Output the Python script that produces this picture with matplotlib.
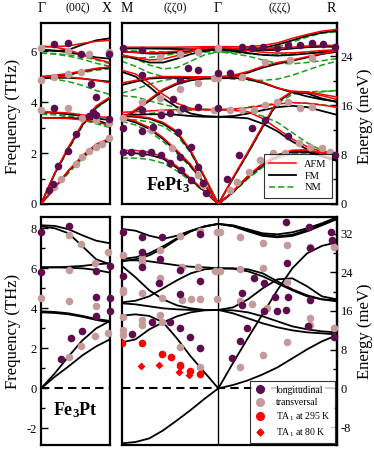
import numpy as np
import matplotlib
matplotlib.use("Agg")
import matplotlib.pyplot as plt
from matplotlib.lines import Line2D

plt.rcParams["font.family"] = ["Liberation Serif", "DejaVu Serif"]
plt.rcParams["mathtext.default"] = "regular"

THZ2MEV = 4.1357
DARK = "#5e0c4e"
LIGHT = "#c49a9a"
RED = "#ff0000"
GREEN = "#16a016"

# q grids (reciprocal-space path lengths)
QX = [0, 0.2, 0.4, 0.6, 0.8, 1.0]                       # Gamma -> X
QR = list(np.linspace(0, 1.414, 8)) + list(np.linspace(1.414, 3.146, 9)[1:])  # M -> Gamma -> R
Q_GAMMA = 1.414

# ---------------- FePt3, Gamma-X (THz) ----------------
fm_x = [
    [0, 0.65, 1.3, 1.85, 2.3, 2.5],
    [0, 1.2, 2.2, 3.1, 3.8, 4.15],
    [3.6, 3.58, 3.52, 3.45, 3.35, 3.3],
    [3.38, 3.38, 3.37, 3.35, 3.3, 3.1],
    [4.93, 5.0, 5.08, 5.2, 5.3, 5.35],
    [4.93, 4.95, 4.95, 4.92, 4.85, 4.8],
    [6.05, 6.0, 6.05, 6.25, 6.42, 6.5],
    [6.05, 6.02, 5.95, 5.85, 5.75, 5.7],
]
afm_x = [
    [0, 0.65, 1.32, 1.9, 2.35, 2.58],
    [0, 1.22, 2.25, 3.15, 3.85, 4.2],
    [3.62, 3.6, 3.57, 3.5, 3.42, 3.4],
    [3.38, 3.37, 3.35, 3.3, 3.2, 3.1],
    [5.0, 5.05, 5.12, 5.22, 5.32, 5.38],
    [5.0, 5.0, 4.98, 4.92, 4.85, 4.75],
    [6.18, 6.18, 6.2, 6.3, 6.38, 6.42],
    [6.18, 6.15, 6.05, 5.85, 5.68, 5.55],
]
nm_x = [
    [0, 0.6, 1.22, 1.78, 2.25, 2.45],
    [0, 1.18, 2.15, 3.05, 3.75, 4.15],
    [3.55, 3.52, 3.45, 3.35, 3.18, 3.05],
    [3.52, 3.5, 3.42, 3.3, 3.15, 3.0],
    [4.95, 4.9, 4.8, 4.65, 4.45, 4.3],
    [4.95, 4.98, 5.05, 5.15, 5.25, 5.3],
    [5.92, 5.88, 5.8, 5.68, 5.52, 5.4],
    [5.92, 5.9, 5.85, 5.78, 5.65, 5.5],
]

# ---------------- FePt3, M-Gamma-R (THz) ----------------
fm_r = [
    [1.99, 1.99, 1.93, 1.78, 1.42, 0.95, 0.5, 0, 0.48, 1.07, 1.53, 1.88, 2.05, 2.05, 1.86, 1.7],
    [3.45, 3.42, 3.35, 3.15, 2.8, 2.05, 1.05, 0, 1.02, 2.0, 3.03, 4.0, 4.4, 4.34, 4.14, 4.0],
    [3.36, 3.2, 2.95, 2.55, 2.05, 1.5, 0.78, 0, 0.48, 1.07, 1.53, 1.88, 2.05, 2.05, 1.86, 1.7],
    [3.5, 3.5, 3.52, 3.52, 3.5, 3.45, 3.42, 3.42, 3.4, 3.36, 3.15, 2.85, 2.45, 2.15, 1.9, 1.72],
    [5.19, 5.0, 4.6, 4.15, 3.8, 3.55, 3.45, 3.42, 3.45, 3.55, 3.68, 3.8, 3.85, 3.8, 3.65, 3.5],
    [3.35, 3.65, 4.05, 4.45, 4.7, 4.85, 4.92, 4.93, 4.95, 4.9, 4.75, 4.55, 4.38, 4.22, 4.1, 4.02],
    [4.67, 4.8, 4.92, 4.95, 4.95, 4.94, 4.93, 4.93, 5.0, 5.15, 5.35, 5.5, 5.62, 5.75, 5.88, 5.97],
    [6.1, 6.1, 6.1, 6.09, 6.08, 6.07, 6.07, 6.07, 6.05, 6.03, 6.03, 6.05, 6.1, 6.15, 6.17, 6.17],
    [5.97, 5.95, 5.9, 5.9, 5.95, 6.0, 6.05, 6.07, 6.07, 6.07, 6.12, 6.25, 6.42, 6.6, 6.72, 6.8],
    [5.84, 5.7, 5.55, 5.55, 5.7, 5.88, 6.0, 6.07, 6.0, 5.92, 5.85, 5.82, 5.85, 5.9, 5.95, 6.0],
]
afm_r = [
    [2.1, 2.1, 2.03, 1.85, 1.48, 1.0, 0.52, 0, 0.5, 1.1, 1.58, 1.93, 2.1, 2.12, 2.0, 1.92],
    [3.5, 3.45, 3.38, 3.2, 2.85, 2.1, 1.08, 0, 1.05, 2.05, 3.08, 4.05, 4.42, 4.38, 4.25, 4.1],
    [3.4, 3.25, 3.0, 2.6, 2.1, 1.55, 0.8, 0, 0.5, 1.1, 1.58, 1.93, 2.1, 2.12, 2.0, 1.92],
    [3.6, 3.62, 3.65, 3.68, 3.7, 3.7, 3.7, 3.7, 3.68, 3.62, 3.35, 2.95, 2.55, 2.25, 2.05, 1.95],
    [5.25, 5.1, 4.75, 4.3, 3.95, 3.75, 3.7, 3.7, 3.72, 3.78, 3.85, 3.92, 3.98, 3.95, 3.88, 3.8],
    [3.38, 3.7, 4.1, 4.5, 4.75, 4.9, 4.97, 4.99, 5.0, 4.95, 4.78, 4.55, 4.42, 4.4, 4.3, 4.2],
    [4.75, 4.85, 4.95, 5.0, 5.0, 4.99, 4.99, 4.99, 5.05, 5.2, 5.4, 5.55, 5.65, 5.78, 5.9, 6.0],
    [6.15, 6.15, 6.15, 6.15, 6.15, 6.16, 6.17, 6.17, 6.17, 6.15, 6.12, 6.12, 6.15, 6.2, 6.22, 6.22],
    [5.84, 5.75, 5.65, 5.68, 5.82, 5.98, 6.1, 6.17, 6.17, 6.17, 6.22, 6.32, 6.5, 6.65, 6.78, 6.85],
    [5.97, 5.95, 5.93, 5.95, 6.0, 6.08, 6.14, 6.17, 6.1, 6.02, 5.95, 5.92, 5.93, 5.97, 6.02, 6.05],
]
nm_r = [
    [1.8, 1.8, 1.75, 1.6, 1.3, 0.9, 0.47, 0, 0.45, 1.0, 1.45, 1.8, 1.98, 2.0, 1.9, 1.78],
    [3.3, 3.3, 3.22, 3.05, 2.7, 2.0, 1.02, 0, 1.0, 1.98, 3.0, 3.95, 4.3, 4.4, 4.42, 4.45],
    [3.25, 3.1, 2.85, 2.45, 1.98, 1.45, 0.75, 0, 0.45, 1.0, 1.45, 1.8, 1.98, 2.0, 1.9, 1.78],
    [3.5, 3.52, 3.55, 3.6, 3.65, 3.68, 3.7, 3.7, 3.68, 3.6, 3.45, 3.2, 2.8, 2.4, 2.1, 1.95],
    [4.25, 4.2, 4.05, 3.9, 3.8, 3.75, 3.72, 3.7, 3.72, 3.8, 3.88, 3.95, 3.98, 3.95, 3.9, 3.8],
    [4.35, 4.5, 4.7, 4.85, 4.92, 4.95, 4.95, 4.95, 4.9, 4.85, 4.85, 4.9, 5.05, 5.25, 5.45, 5.6],
    [5.6, 5.4, 5.15, 5.0, 4.95, 4.95, 4.95, 4.95, 4.95, 4.88, 4.75, 4.55, 4.38, 4.35, 4.4, 4.45],
    [5.85, 5.7, 5.45, 5.3, 5.35, 5.6, 5.85, 5.97, 5.95, 5.9, 5.85, 5.85, 5.9, 5.95, 5.98, 6.0],
    [6.02, 6.0, 5.98, 5.97, 5.97, 5.97, 5.97, 5.97, 5.97, 6.0, 6.05, 6.15, 6.35, 6.55, 6.7, 6.75],
    [5.75, 5.72, 5.75, 5.82, 5.9, 5.95, 5.97, 5.97, 5.9, 5.8, 5.65, 5.52, 5.5, 5.55, 5.62, 5.7],
]

# ---------------- FePt3 experiment ----------------
tl_dark_q = [0.19, 0.39, 0.58, 0.98, 0.72, 0.80, 0.19, 0.75, 0.98, 0.12, 0.17, 0.24, 0.39, 0.51, 0.70, 0.80]
tl_dark_f = [6.27, 6.30, 5.90, 5.90, 4.70, 4.21, 3.75, 3.62, 3.32, 0.55, 0.80, 1.50, 2.09, 2.73, 3.45, 3.49]
tl_light_q = [0, 0.39, 0.70, 0.99, 0, 0.19, 0.39, 0.58, 0, 0.39, 0.60, 0.80, 0.99, 0.99, 0.89, 0.80,
              0.70, 0.60, 0.51, 0.29, 0.19]
tl_light_f = [6.10, 6.01, 5.90, 5.97, 4.86, 5.00, 5.10, 5.19, 3.69, 3.75, 3.36, 3.29, 3.16, 2.58, 2.35,
              2.25, 2.08, 1.86, 1.57, 1.00, 0.68]

tr_dark_q = [0.02, 0.29, 0.02, 0.02, 0.14, 0.29, 0.43, 0.58, 0.70, 0.85, 0.87, 1.02, 1.12, 1.19, 1.23,
             0.29, 0.85, 0.97, 1.12, 0.75, 0.90, 1.12, 0.58, 0.30, 0.29, 0.46, 0.70, 0.82, 1.02,
             1.41, 1.41, 1.59, 1.76, 1.90, 2.07, 2.27, 2.44, 2.61, 2.78, 2.95, 3.12, 2.10, 1.90,
             1.71, 1.54, 2.44, 3.12]
tr_dark_f = [6.10, 6.04, 2.97, 2.05, 2.05, 2.01, 2.05, 1.92, 1.62, 1.83, 1.33, 0.94, 1.46, 0.81, 0.42,
             5.06, 4.86, 5.32, 5.25, 4.12, 3.75, 3.79, 3.49, 2.86, 3.69, 3.03, 3.56, 2.84, 2.25,
             5.12, 3.75, 5.12, 6.17, 6.10, 6.17, 6.10, 6.24, 6.24, 6.30, 6.27, 6.17, 3.29, 2.97,
             1.92, 0.97, 2.67, 1.92]
tr_light_q = [0.85, 1.12, 0.56, 0.85, 1.12, 1.35, 0.29, 0.56, 0.02, 0.58, 0.85, 1.35, 0.43, 0.73,
              1.12, 1.19, 1.41, 1.41, 1.76, 2.10, 2.46, 2.78, 1.59, 1.76, 1.93, 2.10, 2.27, 2.44,
              2.61, 2.78, 1.59, 1.69, 1.86, 2.03, 2.22, 2.39, 2.59, 2.76, 2.93, 3.05]
tr_light_f = [5.90, 5.97, 5.75, 4.51, 4.73, 4.93, 4.01, 4.14, 3.36, 3.62, 3.69, 3.69, 2.90, 2.18,
              1.14, 0.75, 6.10, 4.93, 4.99, 5.58, 5.65, 5.71, 3.69, 3.69, 3.69, 3.88, 4.01, 4.01,
              3.75, 3.82, 0.55, 0.88, 1.27, 1.73, 1.99, 1.99, 2.38, 2.25, 2.18, 2.05]

# ---------------- Fe3Pt theory (THz) ----------------
fe3pt_x = [
    [0, 0.58, 1.1, 1.65, 2.1, 2.45],
    [0, 0.75, 1.6, 2.4, 3.0, 3.37],
    [3.85, 3.82, 3.75, 3.62, 3.47, 3.37],
    [3.8, 3.77, 3.7, 3.58, 3.42, 3.3],
    [6.05, 6.05, 6.03, 6.0, 5.92, 5.78],
    [6.05, 6.05, 6.08, 6.12, 6.2, 6.25],
    [8.15, 8.12, 7.95, 7.65, 7.38, 7.25],
    [8.1, 8.0, 7.75, 7.1, 6.45, 6.2],
]
fe3pt_r = [
    [7.97, 7.88, 7.63, 7.47, 7.63, 7.88, 8.08, 8.22, 8.1, 7.85, 7.62, 7.55, 7.62, 7.85, 8.15, 8.45],
    [6.47, 6.55, 6.75, 7.1, 7.5, 7.85, 8.1, 8.22, 8.12, 7.9, 7.68, 7.6, 7.68, 7.92, 8.2, 8.5],
    [6.35, 6.45, 6.65, 7.0, 7.45, 7.85, 8.1, 8.22, 8.15, 7.95, 7.75, 7.7, 7.8, 8.0, 8.25, 8.55],
    [6.4, 6.4, 6.35, 6.25, 6.15, 6.08, 6.05, 6.0, 6.0, 5.95, 5.75, 5.35, 4.95, 4.65, 4.45, 4.35],
    [6.13, 5.55, 4.9, 4.45, 4.15, 4.0, 3.92, 3.92, 3.9, 3.8, 3.6, 3.35, 3.1, 2.95, 2.85, 2.8],
    [4.3, 4.38, 4.6, 5.0, 5.4, 5.75, 5.95, 6.0, 5.98, 5.85, 5.6, 5.25, 4.9, 4.6, 4.45, 4.4],
    [4.25, 4.2, 4.1, 4.0, 3.95, 3.92, 3.92, 3.92, 4.05, 4.45, 5.0, 5.45, 5.5, 5.1, 4.6, 4.45],
    [3.63, 3.7, 3.62, 3.3, 2.5, 1.6, 0.8, 0, 1.28, 2.52, 3.72, 4.92, 6.0, 6.75, 7.12, 7.3],
    [2.3, 2.45, 2.95, 3.3, 3.6, 3.8, 3.9, 3.92, 3.75, 3.5, 3.25, 3.05, 2.9, 2.8, 2.75, 2.7],
    [-2.75, -2.68, -2.5, -2.1, -1.6, -1.08, -0.52, 0, 0.17, 0.4, 0.7, 1.05, 1.5, 1.95, 2.35, 2.65],
]

# ---------------- Fe3Pt experiment ----------------
bl_dark_q = [0.0, 0.40, 0.0, 0.80, 1.0, 0.80, 1.0, 0.80, 1.0, 0.29, 0.43, 0.60]
bl_dark_f = [7.80, 8.13, 5.80, 5.88, 6.12, 4.55, 4.50, 3.62, 3.88, 1.47, 2.52, 2.85]
bl_light_q = [0.0, 0.40, 0.58, 0.97, 0.78, 0.40, 0.40, 0.80, 0.97, 0.78, 0.58, 0.40]
bl_light_f = [4.50, 7.67, 7.22, 6.83, 6.25, 5.92, 4.38, 4.12, 2.78, 2.62, 2.13, 1.58]

br_dark_q = [0.02, 0.29, 0.59, 1.15, 0.29, 0.56, 0.29, 0.85, 0.02, 0.54, 1.14, 0.85, 0.15, 0.44,
             0.70, 0.86, 1.00, 1.14, 2.41, 2.74, 3.06, 3.07, 2.76, 2.42, 1.93, 2.08, 1.76, 2.24,
             2.44, 1.76, 2.76, 2.27, 2.41, 2.08, 2.73, 1.83, 1.73, 1.61, 3.11]
br_dark_f = [7.80, 7.58, 7.58, 7.72, 6.80, 6.45, 6.08, 5.92, 5.63, 5.25, 5.38, 4.72, 2.72, 3.30,
             3.33, 3.00, 2.58, 2.00, 8.30, 8.08, 7.80, 7.42, 7.00, 6.28, 5.50, 5.25, 4.75, 4.58,
             4.58, 4.17, 4.42, 3.87, 3.92, 3.88, 3.13, 3.00, 2.37, 1.50, 2.58]
br_light_q = [0.02, 0.29, 0.29, 0.56, 0.85, 1.14, 1.39, 1.44, 1.73, 2.07, 2.42, 2.75, 3.10, 0.02,
              0.02, 0.29, 0.56, 0.88, 1.12, 1.37, 1.44, 1.73, 2.07, 2.42, 0.59, 0.88, 1.02, 1.15,
              1.39, 1.73, 1.90, 2.12, 0.02, 0.29, 0.29, 0.56, 0.59, 0.02, 0.02, 0.85, 1.15, 1.73,
              2.07, 2.42, 2.76, 2.76, 3.10]
br_light_f = [6.67, 6.50, 6.33, 6.92, 7.62, 7.88, 7.83, 7.83, 7.58, 7.25, 7.17, 7.08, 7.05, 4.92,
              4.83, 4.75, 5.50, 6.08, 6.08, 5.87, 5.87, 5.95, 6.00, 5.33, 4.50, 4.42, 4.45, 4.45,
              4.45, 4.38, 4.22, 4.00, 3.55, 3.42, 3.17, 3.67, 3.33, 2.92, 2.67, 2.05, 1.08, 1.08,
              1.67, 2.33, 3.50, 3.17, 3.00]
ta295_q = [0.01, 0.29, 0.59, 0.72, 0.85, 1.00, 1.14]
ta295_f = [2.25, 2.25, 1.70, 1.58, 1.17, 0.88, 0.70]
ta80_q = [0.28, 0.55, 0.85, 0.84, 0.99]
ta80_f = [1.12, 1.17, 1.08, 0.80, 0.67]

W, H = 374, 449
fig = plt.figure(figsize=(W / 100, H / 100), dpi=100)


def make_ax(x0, x1, y0, y1):
    """Axes from pixel box (left, right, top, bottom)."""
    ax = fig.add_axes([x0 / W, 1 - y1 / H, (x1 - x0) / W, (y1 - y0) / H])
    for s in ax.spines.values():
        s.set_linewidth(1.6)
    ax.tick_params(bottom=False, labelbottom=False, top=False)
    return ax


ax_tl = make_ax(41, 110, 23, 204)
ax_tr = make_ax(121.7, 336.7, 23, 204)
ax_bl = make_ax(41, 110, 217.3, 445)
ax_br = make_ax(121.7, 336.7, 217.3, 445)

for ax in (ax_tl, ax_bl):
    ax.set_xlim(0, 1)
for ax in (ax_tr, ax_br):
    ax.set_xlim(0, 3.146)
    ax.axvline(Q_GAMMA, color="black", lw=1.0, zorder=1)
for ax in (ax_tl, ax_tr):
    ax.set_ylim(0, 7.1)
for ax in (ax_bl, ax_br):
    ax.set_ylim(-2.83, 8.55)
    ax.axhline(0, color="black", lw=1.5, ls=(0, (4, 2.5)), zorder=1)

# left frequency axes
for ax, major, minor in ((ax_tl, [0, 2, 4, 6], [1, 3, 5]),
                         (ax_bl, [-2, 0, 2, 4, 6, 8], [-1, 1, 3, 5, 7])):
    ax.set_yticks(major)
    ax.set_yticks(minor, minor=True)
    ax.set_yticklabels([str(v) for v in major])
    ax.tick_params(axis="y", which="both", direction="in", right=False, labelsize=9, width=1.0)
    ax.tick_params(axis="y", which="major", length=5, pad=3)
    ax.tick_params(axis="y", which="minor", length=3)

# right energy axes
for ax, major, minor in ((ax_tr, [0, 8, 16, 24], [4, 12, 20]),
                         (ax_br, [-8, 0, 8, 16, 24, 32], [-4, 4, 12, 20, 28])):
    ax.tick_params(axis="y", which="both", left=False, labelleft=False)
    sec = ax.secondary_yaxis("right", functions=(lambda f: f * THZ2MEV, lambda e: e / THZ2MEV))
    sec.set_yticks(major)
    sec.set_yticks(minor, minor=True)
    sec.set_yticklabels([str(v) for v in major])
    sec.spines["right"].set_linewidth(1.6)
    sec.tick_params(which="both", direction="in", labelsize=9, width=1.0)
    sec.tick_params(which="major", length=5, pad=3)
    sec.tick_params(which="minor", length=3)

# theory curves
for q, sets in ((QX, (fm_x, afm_x, nm_x)), (QR, (fm_r, afm_r, nm_r))):
    ax = ax_tl if q is QX else ax_tr
    fm, afm, nm = sets
    for b in nm:
        ax.plot(q, b, color=GREEN, lw=1.1, ls=(0, (4, 2)), zorder=2)
    for b in fm:
        ax.plot(q, b, color="black", lw=1.3, zorder=3)
    for b in afm:
        ax.plot(q, b, color=RED, lw=1.1, zorder=4)
for b in fe3pt_x:
    ax_bl.plot(QX, b, color="black", lw=1.3, zorder=3)
for b in fe3pt_r:
    ax_br.plot(QR, b, color="black", lw=1.3, zorder=3)

# experimental points
MS = 30
for ax, dq, df, lq, lf in ((ax_tl, tl_dark_q, tl_dark_f, tl_light_q, tl_light_f),
                           (ax_tr, tr_dark_q, tr_dark_f, tr_light_q, tr_light_f),
                           (ax_bl, bl_dark_q, bl_dark_f, bl_light_q, bl_light_f),
                           (ax_br, br_dark_q, br_dark_f, br_light_q, br_light_f)):
    ax.scatter(lq, lf, s=MS, color=LIGHT, lw=0, zorder=5, clip_on=False)
    ax.scatter(dq, df, s=MS, color=DARK, lw=0, zorder=6, clip_on=False)
ax_br.scatter(ta295_q, ta295_f, s=MS, color=RED, lw=0, zorder=7)
ax_br.scatter(ta80_q, ta80_f, s=16, marker="D", color=RED, lw=0, zorder=7)

# compound names
ax_tr.text(0.215, 0.105, "FePt$_3$", transform=ax_tr.transAxes, fontsize=13,
           fontweight="bold", ha="center", va="center")
ax_bl.text(0.5, 0.155, "Fe$_3$Pt", transform=ax_bl.transAxes, fontsize=13,
           fontweight="bold", ha="center", va="center")

# legends
leg1 = ax_tr.legend(handles=[Line2D([], [], color=RED, lw=1.1),
                             Line2D([], [], color="black", lw=1.3),
                             Line2D([], [], color=GREEN, lw=1.1, ls=(0, (4, 2)))],
                    labels=["AFM", "FM", "NM"], loc="lower right",
                    bbox_to_anchor=(0.978, 0.035), fontsize=7.5, frameon=True,
                    fancybox=False, borderaxespad=0, handlelength=2.6,
                    labelspacing=0.25, borderpad=0.5, handletextpad=0.8)
leg1.get_frame().set_edgecolor("black")
leg1.get_frame().set_linewidth(0.8)
leg1.set_zorder(10)

leg2 = ax_br.legend(handles=[Line2D([], [], color=DARK, marker="o", ls="", ms=5.5),
                             Line2D([], [], color=LIGHT, marker="o", ls="", ms=5.5),
                             Line2D([], [], color=RED, marker="o", ls="", ms=5.5),
                             Line2D([], [], color=RED, marker="D", ls="", ms=3.5)],
                    labels=["longitudinal", "transversal", "TA$_1$ at 295 K", "TA$_1$ at 80 K"],
                    loc="lower right", bbox_to_anchor=(0.992, 0.008), fontsize=7,
                    frameon=True, fancybox=False, borderaxespad=0, handlelength=1.2,
                    labelspacing=0.35, borderpad=0.45, handletextpad=1.0)
leg2.get_frame().set_edgecolor("black")
leg2.get_frame().set_linewidth(0.8)
leg2.set_zorder(10)

# path labels on top
for x, s, fs in ((42, "Γ", 10), (78, "(00ζ)", 8.5), (107, "X", 10), (127, "M", 10),
                 (175, "(ζζ0)", 8.5), (218, "Γ", 10), (280, "(ζζζ)", 8.5), (331, "R", 10)):
    fig.text(x / W, 1 - 8 / H, s, fontsize=fs, ha="center", va="center")

# axis titles
for y in (116, 331):
    fig.text(13 / W, 1 - y / H, "Frequency (THz)", rotation=90, fontsize=12,
             ha="center", va="center")
    fig.text(365 / W, 1 - y / H, "Energy (meV)", rotation=90, fontsize=12,
             ha="center", va="center")

fig.savefig("out.png", dpi=100)
